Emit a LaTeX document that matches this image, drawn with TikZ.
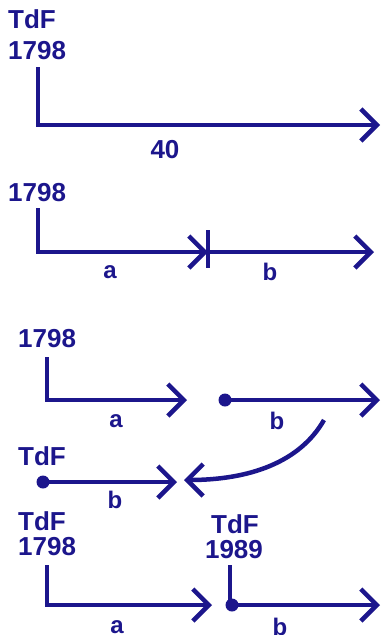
\documentclass[tikz,border=0pt]{standalone}
\usepackage{fontspec}
\setmainfont{Liberation Sans}
\usetikzlibrary{arrows.meta}
\definecolor{navy}{RGB}{28,22,140}
\begin{document}
\begin{tikzpicture}[x=1pt,y=-1pt,
  ln/.style={draw=navy,line width=4.5pt},
  arr/.style={ln,-{Straight Barb[length=16pt,width=32pt]}},
  lbl/.style={text=navy,font=\bfseries\fontsize{26}{26}\selectfont,inner sep=0pt},
  sm/.style={text=navy,font=\bfseries\fontsize{24}{24}\selectfont,inner sep=0pt},
  dot/.style={circle,fill=navy,minimum size=13pt,inner sep=0pt}]
\useasboundingbox (0,0) rectangle (383,635);
% panel 1
\node[lbl,anchor=base west] (t1) at (8,28) {TdF};
\node[lbl,anchor=base west] (y1) at (8,59) {1798};
\coordinate (p1a) at (38,67);
\coordinate (p1b) at (380,125);
\draw[arr] (p1a) |- (p1b);
\node[lbl] (n40) at (165,150) {40};
% panel 2
\node[lbl,anchor=base west] (y2) at (8,201) {1798};
\coordinate (p2a) at (38,208);
\coordinate (p2m) at (208,252);
\coordinate (p2b) at (374,252);
\coordinate (p2t) at (208,230);
\coordinate (p2u) at (208,268);
\draw[arr] (p2a) |- (p2m);
\draw[ln] (p2t) -- (p2u);
\draw[arr] (p2m) -- (p2b);
\node[sm] (a2) at (110,272) {a};
\node[sm] (b2) at (270,272) {b};
% panel 3
\node[lbl,anchor=base west] (y3) at (18,347) {1798};
\coordinate (p3a) at (47,357);
\coordinate (p3m) at (187,400);
\draw[arr] (p3a) |- (p3m);
\node[dot] (d3) at (225,400) {};
\coordinate (p3b) at (380,400);
\draw[arr] (d3.center) -- (p3b);
\node[sm] (a3) at (116,421) {a};
\node[sm] (b3) at (277,421) {b};
% curved arrow
\coordinate (c1) at (324,420);
\coordinate (c2) at (184,480);
\draw[arr] (c1) .. controls (300,462) and (250,480) .. (c2);
% panel 4
\node[lbl,anchor=base west] (t4) at (18,465) {TdF};
\node[dot] (d4) at (43,482) {};
\coordinate (p4b) at (177,482);
\draw[arr] (d4.center) -- (p4b);
\node[sm] (b4) at (115,500) {b};
% panel 5
\node[lbl,anchor=base west] (t5) at (18,530) {TdF};
\node[lbl,anchor=base west] (y5) at (18,555) {1798};
\coordinate (p5a) at (47,565);
\coordinate (p5m) at (212,605);
\draw[arr] (p5a) |- (p5m);
\node[lbl] (t6) at (235,524) {TdF};
\node[lbl,anchor=base] (y6) at (234,558) {1989};
\coordinate (p6a) at (230,565);
\node[dot] (d6) at (232,605) {};
\draw[ln] (p6a) -- (230,605);
\coordinate (p6b) at (380,605);
\draw[arr] (d6.center) -- (p6b);
\node[sm] (a5) at (117,627) {a};
\node[sm] (b5) at (280,627) {b};
\end{tikzpicture}
\end{document}
